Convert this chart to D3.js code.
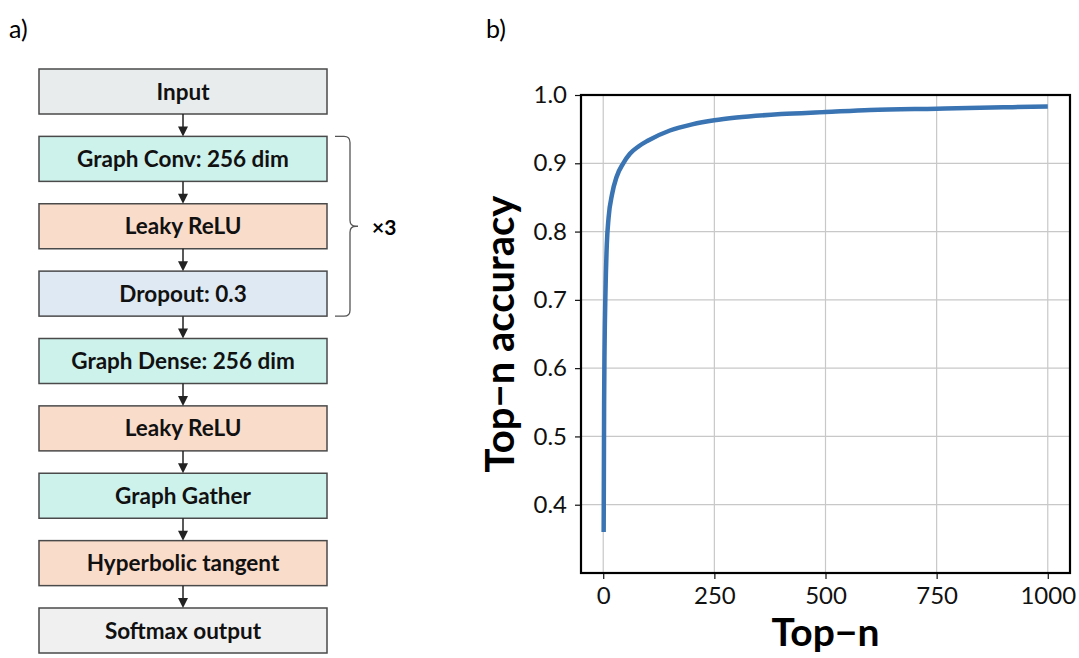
<!DOCTYPE html>
<html>
<head>
<meta charset="utf-8">
<script src="https://cdn.jsdelivr.net/npm/d3@7"></script>
<style>
  body { margin: 0; background: #fff; }
  text { font-family: Lato, "Open Sans", sans-serif; }
</style>
</head>
<body>
<div id="fig"></div>
<script>
// flowchart layers (panel a)
var layers = ["Input", "Graph Conv: 256 dim", "Leaky ReLU", "Dropout: 0.3",
              "Graph Dense: 256 dim", "Leaky ReLU", "Graph Gather",
              "Hyperbolic tangent", "Softmax output"];
var layerKind = ["io", "graph", "act", "drop", "graph", "act", "graph", "act", "out"];
var repeatFrom = 1, repeatTo = 3, repeatLabel = "×3";

// top-n accuracy curve (panel b)
var topN = [1, 2, 3, 5, 8, 12, 20, 30, 45, 60, 80, 100, 150, 200, 250, 300, 400, 500, 600, 750, 900, 1000];
var accuracy = [0.36, 0.55, 0.63, 0.71, 0.78, 0.82, 0.855, 0.88, 0.90, 0.914, 0.925, 0.933,
                0.948, 0.957, 0.963, 0.967, 0.972, 0.975, 0.978, 0.980, 0.982, 0.983];
var xTicks = [0, 250, 500, 750, 1000];
var yTicks = [0.4, 0.5, 0.6, 0.7, 0.8, 0.9, 1.0];

var kindColor = {io: "#e9eced", graph: "#cdf2ec", act: "#fadccb", drop: "#dfe9f3", out: "#f0f0f0"};

var svg = d3.select("#fig").append("svg")
  .attr("width", 1079)
  .attr("height", 658);

// ---------- panel a ----------
svg.append("text").attr("x", 9).attr("y", 38)
  .style("font-size", "25px").text("a)");

var boxX = 39, boxW = 288, boxH = 45;
var yb = d3.scaleLinear().domain([0, layers.length - 1]).range([69, 608]);

var fc = svg.append("g");

fc.selectAll("rect.box")
  .data(layers)
  .enter()
  .append("rect")
    .attr("class", "box")
    .attr("x", boxX)
    .attr("y", (d, i) => yb(i))
    .attr("width", boxW)
    .attr("height", boxH)
    .attr("fill", (d, i) => kindColor[layerKind[i]])
    .attr("stroke", "#4a4a4a")
    .attr("stroke-width", 1.5);

fc.selectAll("text.lbl")
  .data(layers)
  .enter()
  .append("text")
    .attr("class", "lbl")
    .attr("x", boxX + boxW / 2)
    .attr("y", (d, i) => yb(i) + boxH / 2 + 8)
    .attr("text-anchor", "middle")
    .style("font-size", "22.5px")
    .style("font-weight", "bold")
    .style("fill", "#111")
    .text(d => d);

// arrows between boxes
var cx = boxX + boxW / 2;
var gaps = d3.range(layers.length - 1);
fc.selectAll("line.arr")
  .data(gaps)
  .enter()
  .append("line")
    .attr("x1", cx).attr("x2", cx)
    .attr("y1", i => yb(i) + boxH)
    .attr("y2", i => yb(i + 1) - 8)
    .attr("stroke", "#222")
    .attr("stroke-width", 1.5);

fc.selectAll("path.head")
  .data(gaps)
  .enter()
  .append("path")
    .attr("d", i => {
      var t = yb(i + 1);
      return "M" + (cx - 5) + "," + (t - 10) + "L" + (cx + 5) + "," + (t - 10) + "L" + cx + "," + t + "Z";
    })
    .attr("fill", "#222");

// brace
var bTop = yb(repeatFrom), bBot = yb(repeatTo) + boxH, bMid = (bTop + bBot) / 2;
var bx = 335, bw = 15, r = 6;
fc.append("path")
  .attr("d", "M" + bx + "," + bTop +
    "L" + (bx + bw - r) + "," + bTop +
    "Q" + (bx + bw) + "," + bTop + " " + (bx + bw) + "," + (bTop + r) +
    "L" + (bx + bw) + "," + (bMid - r) +
    "Q" + (bx + bw) + "," + bMid + " " + (bx + bw + r) + "," + bMid +
    "L" + (bx + bw + 8) + "," + bMid +
    "M" + (bx + bw + r) + "," + bMid +
    "Q" + (bx + bw) + "," + bMid + " " + (bx + bw) + "," + (bMid + r) +
    "L" + (bx + bw) + "," + (bBot - r) +
    "Q" + (bx + bw) + "," + bBot + " " + (bx + bw - r) + "," + bBot +
    "L" + bx + "," + bBot)
  .attr("fill", "none")
  .attr("stroke", "#555")
  .attr("stroke-width", 1.3);

fc.append("text")
  .attr("x", 372).attr("y", bMid + 9)
  .style("font-size", "21px").style("font-weight", "bold")
  .text(repeatLabel);

// ---------- panel b ----------
svg.append("text").attr("x", 486).attr("y", 38)
  .style("font-size", "25px").text("b)");

var margin = {top: 95, left: 581, right: 9, bottom: 85},
    width = 1079 - margin.left - margin.right,
    height = 658 - margin.top - margin.bottom;

var canvas = svg.append("g")
  .attr("transform", "translate(" + margin.left + "," + margin.top + ")");

var x = d3.scaleLinear().domain([-50, 1050]).range([0, width]);
var y = d3.scaleLinear().domain([0.30, 1.0]).range([height, 0]);

// grid
canvas.append("g")
  .selectAll("line")
  .data(xTicks)
  .enter()
  .append("line")
    .attr("x1", d => x(d)).attr("x2", d => x(d))
    .attr("y1", 0).attr("y2", height)
    .attr("stroke", "#c8c8c8").attr("stroke-width", 1.2);

canvas.append("g")
  .selectAll("line")
  .data(yTicks)
  .enter()
  .append("line")
    .attr("x1", 0).attr("x2", width)
    .attr("y1", d => y(d)).attr("y2", d => y(d))
    .attr("stroke", "#c8c8c8").attr("stroke-width", 1.2);

// curve
var pts = topN.map((n, i) => [n, accuracy[i]]);
canvas.append("path")
  .datum(pts)
  .attr("fill", "none")
  .attr("stroke", "#3a74b2")
  .attr("stroke-width", 4.5)
  .attr("d", d3.line().x(d => x(d[0])).y(d => y(d[1])).curve(d3.curveMonotoneX));

// axes
var xAxis = canvas.append("g")
  .attr("transform", "translate(0," + height + ")")
  .call(d3.axisBottom(x).tickValues(xTicks).tickFormat(d3.format("d")).tickSize(6).tickPadding(8).tickSizeOuter(0));

var yAxis = canvas.append("g")
  .call(d3.axisLeft(y).tickValues(yTicks).tickFormat(d3.format(".1f")).tickSize(6).tickPadding(8).tickSizeOuter(0));

[xAxis, yAxis].forEach(a => {
  a.select(".domain").remove();
  a.selectAll("line").attr("stroke", "#111").attr("stroke-width", 1.2);
  a.selectAll("text").style("font-size", "24px").style("fill", "#111")
    .style("font-family", "Lato, 'Open Sans', sans-serif");
});

// frame
canvas.append("rect")
  .attr("x", 0).attr("y", 0)
  .attr("width", width).attr("height", height)
  .attr("fill", "none")
  .attr("stroke", "#000")
  .attr("stroke-width", 2.2);

// axis titles
svg.append("text")
  .attr("transform", "translate(514," + (margin.top + height / 2) + ")rotate(-90)")
  .attr("text-anchor", "middle")
  .style("font-size", "40px").style("font-weight", "bold")
  .text("Top\u2212n accuracy");

svg.append("text")
  .attr("x", margin.left + width / 2)
  .attr("y", 646)
  .attr("text-anchor", "middle")
  .style("font-size", "39px").style("font-weight", "bold")
  .text("Top\u2212n");
</script>
</body>
</html>
